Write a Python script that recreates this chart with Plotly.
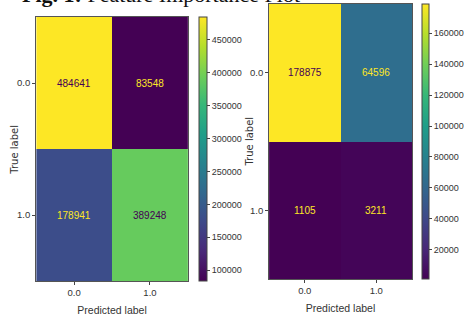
import plotly.graph_objects as go

W, H = 465, 322
classes = ["0.0", "1.0"]
cm_left = [[484641, 83548], [178941, 389248]]
cm_right = [[178875, 64596], [1105, 3211]]
left_cbar_ticks = [100000, 150000, 200000, 250000, 300000, 350000, 400000, 450000]
right_cbar_ticks = [20000, 40000, 60000, 80000, 100000, 120000, 140000, 160000]

NARROW = "Liberation Sans, Arial, sans-serif"
YEL = "#fde725"
PUR = "#440154"

def px(x):
    return x / W

def py(y):
    return 1 - y / H

def nfont(size, color="#333"):
    return dict(family=NARROW, size=size, color=color)

fig = go.Figure()

def add_cm(cm, xa, ya, cbx, cby, cblen, cbthick, ticks):
    flat = [v for r in cm for v in r]
    zmin, zmax = min(flat), max(flat)
    thr = (zmin + zmax) / 2
    fig.add_trace(go.Heatmap(
        z=cm, x=[0, 1], y=[0, 1], colorscale="Viridis", zmin=zmin, zmax=zmax,
        xaxis=xa, yaxis=ya, showscale=True, hoverinfo="skip",
        colorbar=dict(
            x=cbx, xanchor="left", y=cby, yanchor="middle",
            len=cblen, lenmode="pixels", thickness=cbthick, thicknessmode="pixels",
            outlinewidth=1, outlinecolor="#444",
            tickvals=ticks, tickformat="d", ticks="outside", ticklen=3, tickcolor="#444",
            tickfont=nfont(9),
            xpad=0, ypad=0,
        ),
    ))
    for i in range(2):
        for j in range(2):
            v = cm[i][j]
            col = PUR if v > thr else YEL
            fig.add_annotation(
                x=j, y=i, xref=xa, yref=ya, text=str(v), showarrow=False,
                font=nfont(10, col),
            )

add_cm(cm_left, "x", "y", px(203), py(149), 264, 8, left_cbar_ticks)
add_cm(cm_right, "x2", "y2", px(431), py(141.5), 275, 7, right_cbar_ticks)

axis_common = dict(
    tickvals=[0, 1], ticktext=classes, ticks="outside", ticklen=3, tickcolor="#444",
    showline=True, linecolor="#555", linewidth=1, mirror=True, showgrid=False,
    zeroline=False, tickfont=nfont(9.5),
)

fig.update_layout(
    width=W, height=H, margin=dict(l=0, r=0, t=0, b=0),
    paper_bgcolor="white", plot_bgcolor="white", showlegend=False,
    xaxis=dict(domain=[px(37), px(192)], range=[-0.5, 1.5], anchor="y",
               title=dict(text="Predicted label", font=nfont(10.5), standoff=9),
               **axis_common),
    yaxis=dict(domain=[py(281), py(17)], range=[1.5, -0.5], anchor="x", **axis_common),
    xaxis2=dict(domain=[px(275), px(421)], range=[-0.5, 1.5], anchor="y2",
                title=dict(text="Predicted label", font=nfont(10.5), standoff=9),
                **axis_common),
    yaxis2=dict(domain=[py(279), py(4)], range=[1.5, -0.5], anchor="x2", **axis_common),
)

for xc, yc in [(14, 150), (254, 142)]:
    fig.add_annotation(
        xref="paper", yref="paper", x=px(xc), y=py(yc), xanchor="center", yanchor="middle",
        text="True label", textangle=-90, showarrow=False,
        font=dict(family="DejaVu Sans", size=10, color="#333"),
    )

fig.add_annotation(
    xref="paper", yref="paper", x=px(20), y=py(9), xanchor="left", yanchor="bottom",
    text="<b>Fig. 1:</b> Feature Importance Plot", showarrow=False,
    font=dict(family="Liberation Serif, Times New Roman, serif", size=22, color="#111"),
)

fig.write_html("out.html")
